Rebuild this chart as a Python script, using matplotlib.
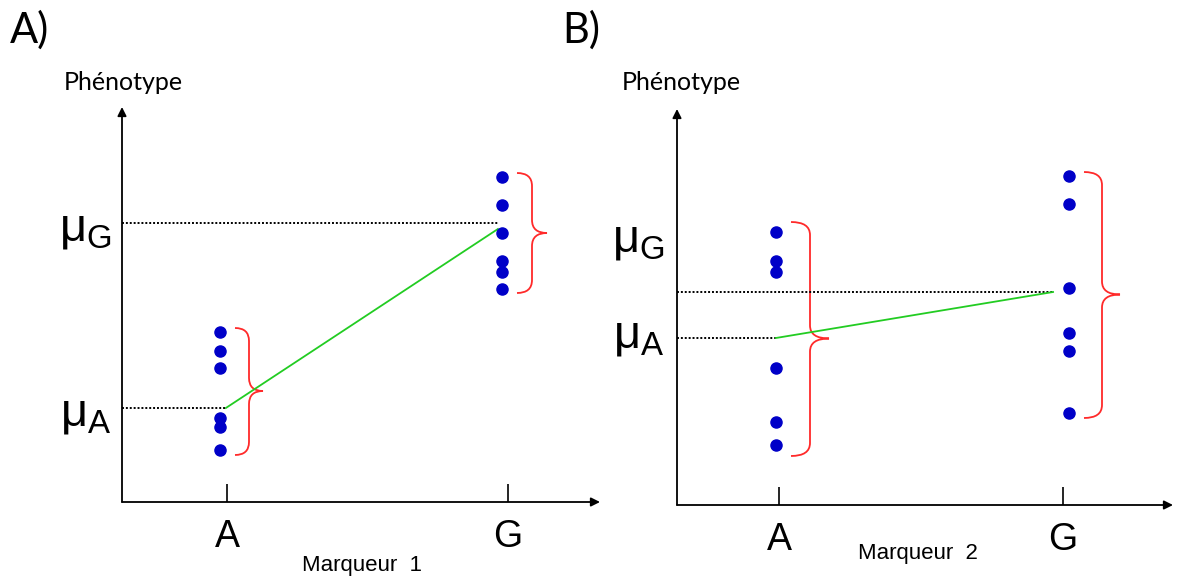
import numpy as np
import matplotlib.pyplot as plt
from matplotlib.path import Path
from matplotlib.patches import PathPatch

plt.rcParams['font.family'] = ['Liberation Sans', 'DejaVu Sans']
plt.rcParams['mathtext.fontset'] = 'custom'
plt.rcParams['mathtext.rm'] = 'Liberation Sans'

genotypes = ['A', 'G']

# A) marqueur 1
pheno_A1 = [17.0, 15.1, 13.4, 8.4, 7.5, 5.2]
pheno_G1 = [32.5, 29.7, 26.9, 24.1, 23.0, 21.3]
mu_1 = [9.4, 27.9]
fit_1 = [9.4, 27.3]

# B) marqueur 2
pheno_A2 = [27.3, 24.4, 23.3, 13.7, 8.3, 6.0]
pheno_G2 = [32.9, 30.1, 21.7, 17.2, 15.4, 9.2]
mu_2 = [16.7, 21.3]
fit_2 = [16.7, 21.3]

W, H = 1177, 578
fig = plt.figure(figsize=(W / 100, H / 100), dpi=100)

BLUE = '#0000c8'
RED = '#ff2a2a'
GREEN = '#22cc22'


def brace(ax, x0, ylo, yhi, ym, w1, w2, ry=1.3):
    x1 = x0 + w1
    x2 = x1 + w2
    verts = [(x0, yhi), (x1, yhi), (x1, yhi - ry),
             (x1, ym + ry), (x1, ym), (x2, ym),
             (x1, ym), (x1, ym - ry),
             (x1, ylo + ry), (x1, ylo), (x0, ylo)]
    codes = [Path.MOVETO, Path.CURVE3, Path.CURVE3, Path.LINETO,
             Path.CURVE3, Path.CURVE3, Path.CURVE3, Path.CURVE3,
             Path.LINETO, Path.CURVE3, Path.CURVE3]
    ax.add_patch(PathPatch(Path(verts, codes), fill=False, ec=RED, lw=1.3,
                           clip_on=False))


def panel(px_left, px_right, px_top, px_bottom, px_tickA, px_unit,
          groups, mu, fit, line_x, dot_dx, pads, bw, lab_y, lab_dx):
    ax = fig.add_axes([px_left / W, (H - px_bottom) / H,
                       (px_right - px_left) / W, (px_bottom - px_top) / H])
    xmin = 1 - (px_tickA - px_left) / px_unit
    ax.set_xlim(xmin, xmin + (px_right - px_left) / px_unit)
    ax.set_ylim(0, (px_bottom - px_top) / 10)
    for s in ax.spines.values():
        s.set_visible(False)
    ap = dict(arrowstyle='-|>', color='black', lw=1.3, mutation_scale=13,
              shrinkA=0, shrinkB=0)
    ax.annotate('', xy=(0, 1), xytext=(0, 0), xycoords='axes fraction',
                arrowprops=ap, annotation_clip=False)
    ax.annotate('', xy=(1, 0), xytext=(0, 0), xycoords='axes fraction',
                arrowprops=ap, annotation_clip=False)
    ax.set_yticks([])
    ax.set_xticks([1, 2])
    ax.set_xticklabels(genotypes)
    ax.tick_params(axis='x', direction='in', length=13, width=1.2,
                   pad=12, labelsize=27)

    # mean lines
    for m, lx in zip(mu, line_x):
        ax.plot([xmin, lx], [m, m], color='black', lw=1.4,
                ls=(0, (1, 1)), clip_on=False)
    ax.plot(line_x, fit, color=GREEN, lw=1.3)

    for i, vals in enumerate(groups):
        x = i + 1 + dot_dx[i] / px_unit
        ax.plot([x] * len(vals), vals, 'o', color=BLUE, ms=8, clip_on=False)
        lo, hi = min(vals), max(vals)
        brace(ax, x + 15 / px_unit, lo - pads[i][0], hi + pads[i][1],
              (lo + hi) / 2, bw[i] / px_unit, bw[i] / px_unit)

    for name, y in zip(['A', 'G'], lab_y):
        ax.annotate(r'$\mathregular{μ_' + name + '}$', xy=(0, y),
                    xycoords=('axes fraction', 'data'),
                    xytext=(lab_dx, 0), textcoords='offset pixels',
                    ha='right', va='baseline', fontsize=34,
                    annotation_clip=False)
    return ax


panel(122, 600, 107, 502, 227, 281, [pheno_A1, pheno_G1], mu_1, fit_1,
      [0.996, 1.964], [-7, -6], [(0.5, 0.4), (0.4, 0.4)], [14, 15],
      [7.6, 26.1], -10)
panel(677, 1173, 109, 505, 779, 284, [pheno_A2, pheno_G2], mu_2, fit_2,
      [0.989, 1.965], [-3, 6], [(1.1, 1.0), (0.5, 0.4)], [19, 18],
      [15.7, 25.4], -12)

fig.text(10 / W, 1 - 30 / H, 'A)', fontsize=30, family=['Lato', 'DejaVu Sans'],
         ha='left', va='center')
fig.text(562 / W, 1 - 30 / H, 'B)', fontsize=30, family=['Lato', 'DejaVu Sans'],
         ha='left', va='center')
fig.text(123 / W, 1 - 90 / H, 'Phénotype', fontsize=18,
         family=['Lato', 'DejaVu Sans'], ha='center', va='baseline')
fig.text(681 / W, 1 - 90 / H, 'Phénotype', fontsize=18,
         family=['Lato', 'DejaVu Sans'], ha='center', va='baseline')
fig.text(362 / W, 1 - 566 / H, 'Marqueur  1', fontsize=16,
         ha='center', va='center')
fig.text(918 / W, 1 - 554 / H, 'Marqueur  2', fontsize=16,
         ha='center', va='center')

fig.savefig('out.png', dpi=100)
